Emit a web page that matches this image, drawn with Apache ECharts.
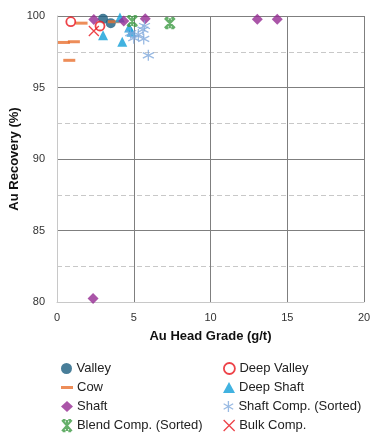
<!DOCTYPE html>
<html><head><meta charset="utf-8">
<script src="https://cdn.jsdelivr.net/npm/echarts@6/dist/echarts.min.js"></script>
<style>html,body{margin:0;padding:0;background:#fff}#c{width:375px;height:439px}</style>
</head><body><div id="c"></div>
<script>
const xTicks = [0, 5, 10, 15, 20];
const yTicks = [80, 85, 90, 95, 100];
const valley = [[3.0, 99.8], [3.5, 99.5]];
const deepValley = [[0.9, 99.6], [2.8, 99.3]];
const cow = [[0.45, 98.15], [1.1, 98.2], [0.8, 96.9], [1.6, 99.5], [3.7, 99.6]];
const deepShaft = [[4.1, 99.9], [3.0, 98.65], [4.25, 98.2], [4.7, 99.2], [4.85, 98.9]];
const shaft = [[2.4, 99.75], [4.35, 99.65], [5.75, 99.8], [13.05, 99.77], [14.35, 99.77], [2.35, 80.25]];
const shaftComp = [[4.8, 98.8], [5.0, 98.45], [5.3, 98.7], [5.65, 98.4], [5.7, 99.3], [5.6, 99.05], [5.95, 97.25]];
const blendComp = [[4.9, 99.65], [7.35, 99.5]];
const bulkComp = [[2.4, 98.95]];
const legendCol1 = ['Valley', 'Cow', 'Shaft', 'Blend Comp. (Sorted)'];
const legendCol2 = ['Deep Valley', 'Deep Shaft', 'Shaft Comp. (Sorted)', 'Bulk Comp.'];

const asterisk = 'path://M0,-10L0,10M-8.66,-5L8.66,5M-8.66,5L8.66,-5';
const blendSym = 'path://M-7,-8L7,8M-7,8L7,-8M0,-8L0,8M-6,-8L-2,-8M2,-8L6,-8M-6,8L-2,8M2,8L6,8';
const xSym = 'path://M-8,-8L8,8M-8,8L8,-8';
const clear = 'rgba(0,0,0,0)';

const styles = {
  'Valley': {symbol: 'circle', symbolSize: 10, itemStyle: {color: '#1A5E80'}, icon: 'circle'},
  'Cow': {symbol: 'rect', symbolSize: [12, 3], itemStyle: {color: '#E8702F'}, icon: 'path://M0,0L12,0L12,3L0,3Z'},
  'Deep Shaft': {symbol: 'triangle', symbolSize: 10, itemStyle: {color: '#119FD8'}, icon: 'triangle'},
  'Shaft': {symbol: 'diamond', symbolSize: 11, itemStyle: {color: '#952A92'}, icon: 'diamond'},
  'Shaft Comp. (Sorted)': {symbol: asterisk, symbolSize: 11, itemStyle: {color: clear, borderColor: '#7FA9DC', borderWidth: 1.3}, icon: asterisk},
  'Blend Comp. (Sorted)': {symbol: blendSym, symbolSize: 10, itemStyle: {color: clear, borderColor: '#3F9B45', borderWidth: 2.2}, icon: blendSym},
  'Deep Valley': {symbol: 'circle', symbolSize: 9, itemStyle: {color: '#fff', borderColor: '#E8141B', borderWidth: 1.8}, icon: 'circle'},
  'Bulk Comp.': {symbol: xSym, symbolSize: 10, itemStyle: {color: clear, borderColor: '#E8141B', borderWidth: 1.3}, icon: xSym}
};
const dataMap = {
  'Valley': valley, 'Cow': cow, 'Deep Shaft': deepShaft, 'Shaft': shaft,
  'Shaft Comp. (Sorted)': shaftComp, 'Blend Comp. (Sorted)': blendComp,
  'Deep Valley': deepValley, 'Bulk Comp.': bulkComp
};
const seriesOrder = ['Valley', 'Cow', 'Deep Shaft', 'Shaft', 'Shaft Comp. (Sorted)', 'Blend Comp. (Sorted)', 'Deep Valley', 'Bulk Comp.'];

const font = 'Liberation Sans, Arial, sans-serif';
const legends = [];
[legendCol1, legendCol2].forEach((col, ci) => {
  col.forEach((name, ri) => {
    const st = styles[name];
    legends.push({
      orient: 'horizontal', left: ci === 0 ? 61 : 223, top: 362 + ri * 19,
      padding: 0, itemWidth: 12, itemHeight: 11, itemGap: 4,
      textStyle: {fontFamily: font, fontSize: 13, color: '#222', padding: [0, 0, 0, -1]},
      data: [{name, icon: st.icon, itemStyle: st.itemStyle}]
    });
  });
});

const chart = echarts.init(document.getElementById('c'));
chart.setOption({
  animation: false,
  grid: {left: 57, right: 11, top: 16, bottom: 137, containLabel: false, outerBoundsMode: 'none'},
  xAxis: {
    type: 'value', min: xTicks[0], max: xTicks[xTicks.length-1], interval: 5,
    name: 'Au Head Grade (g/t)', nameLocation: 'middle', nameGap: 28, nameMoveOverlap: false,
    nameTextStyle: {fontFamily: font, fontWeight: 'bold', fontSize: 13, color: '#111'},
    axisLine: {lineStyle: {color: '#c8c8c8'}},
    axisTick: {show: false},
    axisLabel: {fontFamily: font, fontSize: 11, color: '#333', margin: 10},
    splitLine: {show: true, lineStyle: {color: '#7f7f7f', width: 1}}
  },
  yAxis: {
    type: 'value', min: yTicks[0], max: yTicks[yTicks.length-1], interval: 5,
    name: 'Au Recovery (%)', nameLocation: 'middle', nameGap: 36, nameMoveOverlap: false,
    nameTextStyle: {fontFamily: font, fontWeight: 'bold', fontSize: 13, color: '#111'},
    axisLine: {show: true, lineStyle: {color: '#c8c8c8'}},
    axisTick: {show: false},
    axisLabel: {fontFamily: font, fontSize: 11, color: '#333', margin: 12},
    splitLine: {show: true, lineStyle: {color: '#7f7f7f', width: 1}},
    minorTick: {show: false, splitNumber: 2},
    minorSplitLine: {show: true, lineStyle: {color: '#c8c8c8', type: [5, 3], width: 1}}
  },
  legend: legends,
  series: seriesOrder.map(name => ({
    name, type: 'scatter', data: dataMap[name],
    symbol: styles[name].symbol, symbolSize: styles[name].symbolSize, itemStyle: styles[name].itemStyle
  }))
});
</script></body></html>
